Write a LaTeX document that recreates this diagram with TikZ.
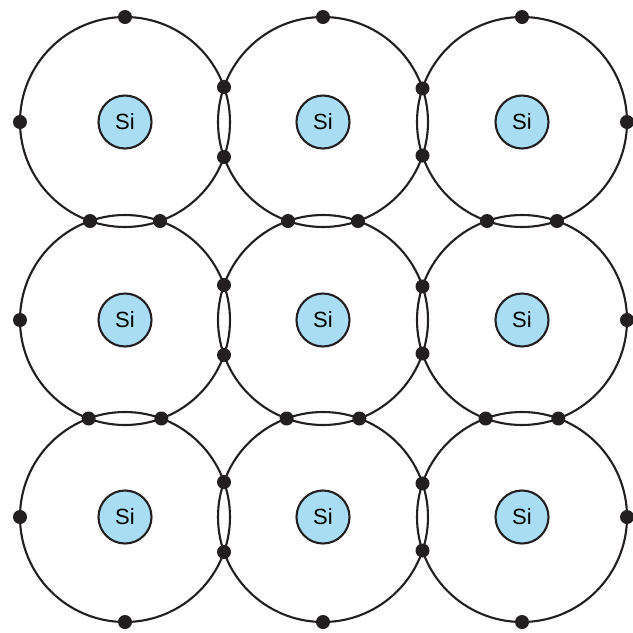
\documentclass[tikz,border=0pt]{standalone}
\usepackage{fontspec}
\setmainfont{Liberation Sans}
\definecolor{siblue}{HTML}{A9DDF3}
\definecolor{ink}{HTML}{231F20}
\tikzset{
  shell/.style={draw=ink, line width=2.1pt},
  atom/.style={circle, draw=ink, line width=2.1pt, fill=siblue, minimum size=53pt, inner sep=0pt, font=\fontsize{22}{22}\selectfont},
  electron/.style={fill=ink}
}
\begin{document}
\begin{tikzpicture}[x=1pt,y=-1pt]
\useasboundingbox (0,0) rectangle (633,633);
\def\R{105}
\foreach \i/\x in {0/125,1/323,2/522}{
  \foreach \j/\y in {0/122,1/320,2/517}{
    \draw[shell] (\x,\y) circle (\R);
    \node[atom] (si\i\j) at (\x,\y) {Si};
  }
}
% bonding electrons between horizontal neighbours
\foreach \xa/\xb in {125/323,323/522}{
  \foreach \y in {122,320,517}{
    \pgfmathsetmacro{\mx}{(\xa+\xb)/2}
    \pgfmathsetmacro{\d}{sqrt(\R*\R-((\xb-\xa)/2)*((\xb-\xa)/2))}
    \fill[electron] (\mx,\y-\d) circle (7);
    \fill[electron] (\mx,\y+\d) circle (7);
  }
}
% bonding electrons between vertical neighbours
\foreach \ya/\yb in {122/320,320/517}{
  \foreach \x in {125,323,522}{
    \pgfmathsetmacro{\my}{(\ya+\yb)/2}
    \pgfmathsetmacro{\d}{sqrt(\R*\R-((\yb-\ya)/2)*((\yb-\ya)/2))}
    \fill[electron] (\x-\d,\my) circle (7);
    \fill[electron] (\x+\d,\my) circle (7);
  }
}
% outer electrons
\foreach \x in {125,323,522}{
  \fill[electron] (\x,122-\R) circle (7);
  \fill[electron] (\x,517+\R) circle (7);
}
\foreach \y in {122,320,517}{
  \fill[electron] (125-\R,\y) circle (7);
  \fill[electron] (522+\R,\y) circle (7);
}
\end{tikzpicture}
\end{document}
